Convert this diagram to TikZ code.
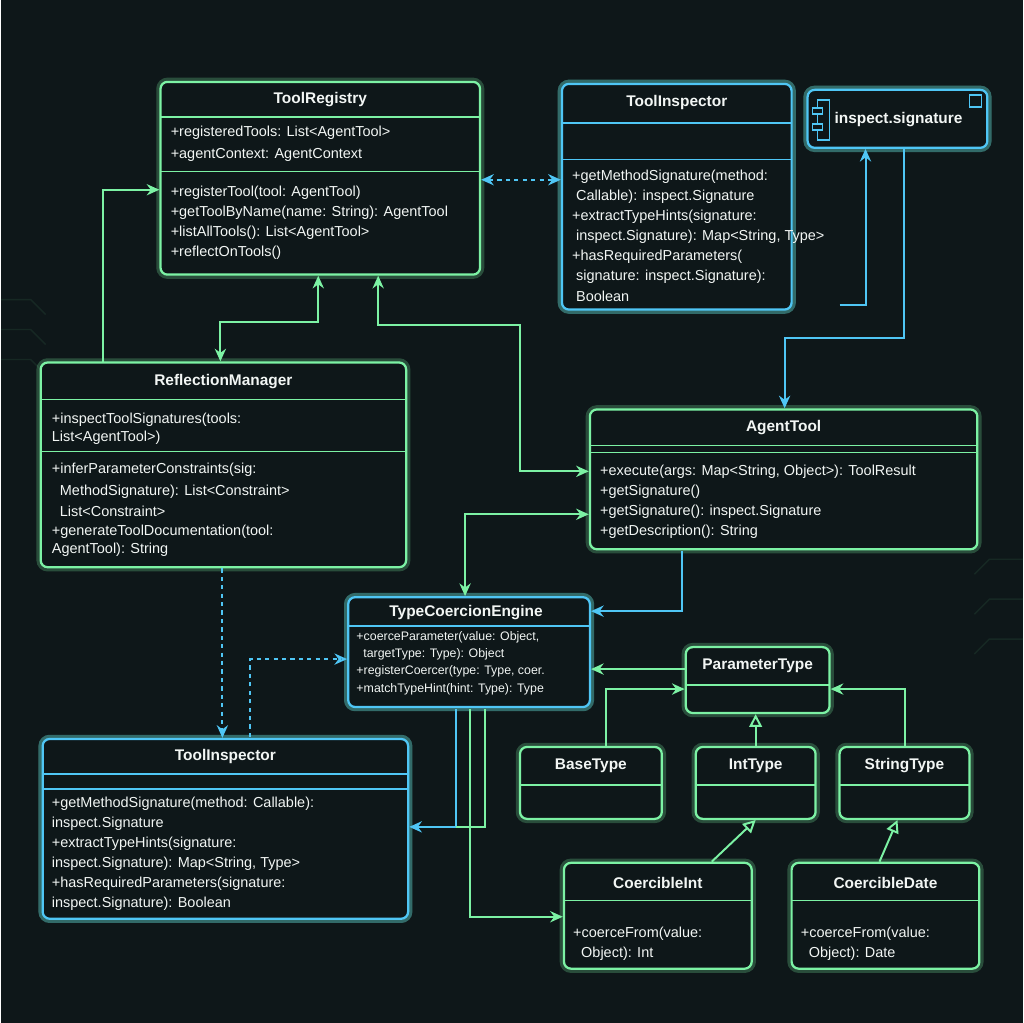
\documentclass[tikz,border=0pt]{standalone}
\usepackage{fontspec}
\setmainfont{Liberation Sans}
\usetikzlibrary{fit,arrows.meta}
\definecolor{bg}{HTML}{0E1719}
\definecolor{gline}{HTML}{7CF2A4}
\definecolor{cline}{HTML}{4FC6F5}
\definecolor{ink}{HTML}{F2F6F4}
\begin{document}
\begin{tikzpicture}[x=0.025cm,y=-0.025cm,
  gbox/.style = {draw=gline, line width=1.6pt, rounded corners=5pt, fill=bg, inner sep=0pt,
                 preaction={draw=gline, line width=6pt, opacity=0.25}},
  cbox/.style = {gbox, draw=cline, preaction={draw=cline, line width=6pt, opacity=0.25}},
  gsep/.style = {draw=gline, line width=1pt},
  csep/.style = {draw=cline, line width=1pt},
  ttl/.style = {text=ink, font=\bfseries\fontsize{11}{13}\selectfont},
  txt/.style = {text=ink, anchor=west, inner sep=0pt, font=\fontsize{10.3}{12}\selectfont},
  stxt/.style = {txt, font=\fontsize{8.8}{10}\selectfont},
  gw/.style = {draw=gline, line width=1.4pt, -{Stealth[length=9pt, width=8pt]}},
  cw/.style = {draw=cline, line width=1.4pt, -{Stealth[length=9pt, width=8pt]}},
  inh/.style = {draw=gline, line width=1.4pt, -{Triangle[open, length=9pt, width=9pt]}}]
\fill[bg] (0,0) rectangle (1024,1024);
% faint circuit traces
\foreach \y in {300,330,360} \draw[gline, opacity=0.08, line width=1pt] (0,\y) -- (30,\y) -- (45,\y+15);
\foreach \y in {560,600,640} \draw[gline, opacity=0.08, line width=1pt] (1024,\y) -- (990,\y) -- (975,\y+15);

% ToolRegistry
\node[gbox, fit={(160,82) (480,275)}] (reg) {};
\node[ttl] (reg-t) at (320,100) {ToolRegistry};
\draw[gsep] (160,117) -- (480,117);
\draw[gsep] (160,172) -- (480,172);
\foreach \y/\t in {133/{+registeredTools: List<AgentTool>}, 155/{+agentContext: AgentContext},
  193/{+registerTool(tool: AgentTool)}, 213/{+getToolByName(name: String): AgentTool},
  233/{+listAllTools(): List<AgentTool>}, 253/{+reflectOnTools()}}
  \node[txt] at (170,\y) {\t};

% ToolInspector (top)
\node[cbox, fit={(562,84) (792,310)}] (insp) {};
\node[ttl] (insp-t) at (677,103) {ToolInspector};
\draw[csep] (562,123) -- (792,123);
\draw[csep] (562,160) -- (792,160);
\foreach \y/\t in {177/{+getMethodSignature(method:}, 197/{\ Callable): inspect.Signature},
  217/{+extractTypeHints(signature:}, 237/{\ inspect.Signature): Map<String, Type>},
  257/{+hasRequiredParameters(}, 277/{\ signature: inspect.Signature):}, 297/{\ Boolean}}
  \node[txt] at (572,\y) {\t};

% inspect.signature
\node[cbox, fit={(808,90) (988,148)}] (sig) {};
\node[text=ink, font=\bfseries\fontsize{11}{13}\selectfont, anchor=west] (sig-t) at (830,120) {inspect.signature};
\draw[cline, line width=1pt] (818,100) rectangle (830,140);
\draw[cline, line width=1pt, fill=bg] (813,108) rectangle (823,114);
\draw[cline, line width=1pt, fill=bg] (813,124) rectangle (823,130);
\draw[cline, line width=1pt] (970,95) rectangle (982,107);

% ReflectionManager
\node[gbox, fit={(40,363) (406,568)}] (refl) {};
\node[ttl] (refl-t) at (223,382) {ReflectionManager};
\draw[gsep] (40,400) -- (406,400);
\draw[gsep] (40,452) -- (406,452);
\foreach \y/\t in {420/{+inspectToolSignatures(tools:}, 438/{List<AgentTool>)},
  470/{+inferParameterConstraints(sig:}, 492/{\ \ MethodSignature): List<Constraint>},
  512/{\ \ List<Constraint>}, 532/{+generateToolDocumentation(tool:}, 551/{AgentTool): String}}
  \node[txt] at (51,\y) {\t};

% AgentTool
\node[gbox, fit={(590,410) (978,550)}] (agent) {};
\node[ttl] (agent-t) at (784,428) {AgentTool};
\draw[gsep] (590,446) -- (978,446);
\draw[gsep] (590,453) -- (978,453);
\foreach \y/\t in {472/{+execute(args: Map<String, Object>): ToolResult}, 492/{+getSignature()},
  512/{+getSignature(): inspect.Signature}, 532/{+getDescription(): String}}
  \node[txt] at (600,\y) {\t};

% TypeCoercionEngine
\node[cbox, fit={(348,598) (590,708)}] (tce) {};
\node[ttl] (tce-t) at (466,613) {TypeCoercionEngine};
\draw[csep] (348,627) -- (590,627);
\foreach \y/\t in {638/{+coerceParameter(value: Object,}, 655/{\ \ targetType: Type): Object},
  672/{+registerCoercer(type: Type, coer.}, 690/{+matchTypeHint(hint: Type): Type}}
  \node[stxt] at (356,\y) {\t};

% ParameterType and subtypes
\node[gbox, fit={(686,648) (830,714)}] (ptype) {};
\node[ttl] (ptype-t) at (758,667) {ParameterType};
\draw[gsep] (686,686) -- (830,686);
\node[gbox, fit={(520,748) (662,820)}] (base) {};
\node[ttl] (base-t) at (591,767) {BaseType};
\draw[gsep] (520,786) -- (662,786);
\node[gbox, fit={(696,748) (816,820)}] (int) {};
\node[ttl] (int-t) at (756,767) {IntType};
\draw[gsep] (696,786) -- (816,786);
\node[gbox, fit={(840,748) (970,820)}] (str) {};
\node[ttl] (str-t) at (905,767) {StringType};
\draw[gsep] (840,786) -- (970,786);

% ToolInspector (bottom)
\node[cbox, fit={(42,740) (408,920)}] (insp2) {};
\node[ttl] (insp2-t) at (225,758) {ToolInspector};
\draw[csep] (42,775) -- (408,775);
\draw[csep] (42,790) -- (408,790);
\foreach \y/\t in {805/{+getMethodSignature(method: Callable):}, 825/{inspect.Signature},
  845/{+extractTypeHints(signature:}, 865/{inspect.Signature): Map<String, Type>},
  885/{+hasRequiredParameters(signature:}, 905/{inspect.Signature): Boolean}}
  \node[txt] at (51,\y) {\t};

% CoercibleInt / CoercibleDate
\node[gbox, fit={(564,864) (752,970)}] (cint) {};
\node[ttl] (cint-t) at (658,884) {CoercibleInt};
\draw[gsep] (564,902) -- (752,902);
\node[txt] at (573,935) {+coerceFrom(value:};
\node[txt] at (573,955) {\ \ Object): Int};
\node[gbox, fit={(792,864) (980,970)}] (cdate) {};
\node[ttl] (cdate-t) at (886,884) {CoercibleDate};
\draw[gsep] (792,902) -- (980,902);
\node[txt] at (801,935) {+coerceFrom(value:};
\node[txt] at (801,955) {\ \ Object): Date};

% connectors
\draw[cw, dashed, {Stealth[length=9pt, width=8pt]}-{Stealth[length=9pt, width=8pt]}] (reg.east |- 0,180) -- (insp.west |- 0,180);
\draw[cw] (840,305) -- (866,305) -- (sig.south -| 866,0);
\draw[cw] (905,148) -- (905,338) -- (785,338) -- (agent.north -| 785,0);
\draw[gw] (102,363) -- (102,190) -- (reg.west |- 0,190);
\draw[gw, {Stealth[length=9pt, width=8pt]}-{Stealth[length=9pt, width=8pt]}] (reg.south -| 318,0) -- (318,322) -- (220,322) -- (refl.north -| 220,0);
\draw[gw, {Stealth[length=9pt, width=8pt]}-{Stealth[length=9pt, width=8pt]}] (reg.south -| 378,0) -- (378,325) -- (520,325) -- (520,472) -- (agent.west |- 0,472);
\draw[gw, {Stealth[length=9pt, width=8pt]}-{Stealth[length=9pt, width=8pt]}] (agent.west |- 0,515) -- (465,515) -- (tce.north -| 465,0);
\draw[cw] (682,552) -- (682,612) -- (tce.east |- 0,612);
\draw[cw, dashed] (refl.south -| 222,0) -- (insp2.north -| 222,0);
\draw[cw, dashed, -{Stealth[open, length=9pt, width=8pt]}] (250,738) -- (250,660) -- (tce.west |- 0,660);
\draw[cw] (456,710) -- (456,828) -- (insp2.east |- 0,828);
\draw[gline, line width=1.4pt] (485,710) -- (485,828) -- (456,828);
\draw[gw] (470,710) -- (470,918) -- (cint.west |- 0,918);
\draw[gw] (ptype.west |- 0,670) -- (tce.east |- 0,670);
\draw[gw] (base.north -| 606,0) -- (606,690) -- (ptype.west |- 0,690);
\draw[inh] (int.north -| 756,0) -- (ptype.south -| 756,0);
\draw[gw] (str.north -| 906,0) -- (906,690) -- (ptype.east |- 0,690);
\draw[inh] (cint.north -| 712,0) -- (int.south -| 756,0);
\draw[inh] (cdate.north -| 880,0) -- (str.south -| 898,0);
\end{tikzpicture}
\end{document}
